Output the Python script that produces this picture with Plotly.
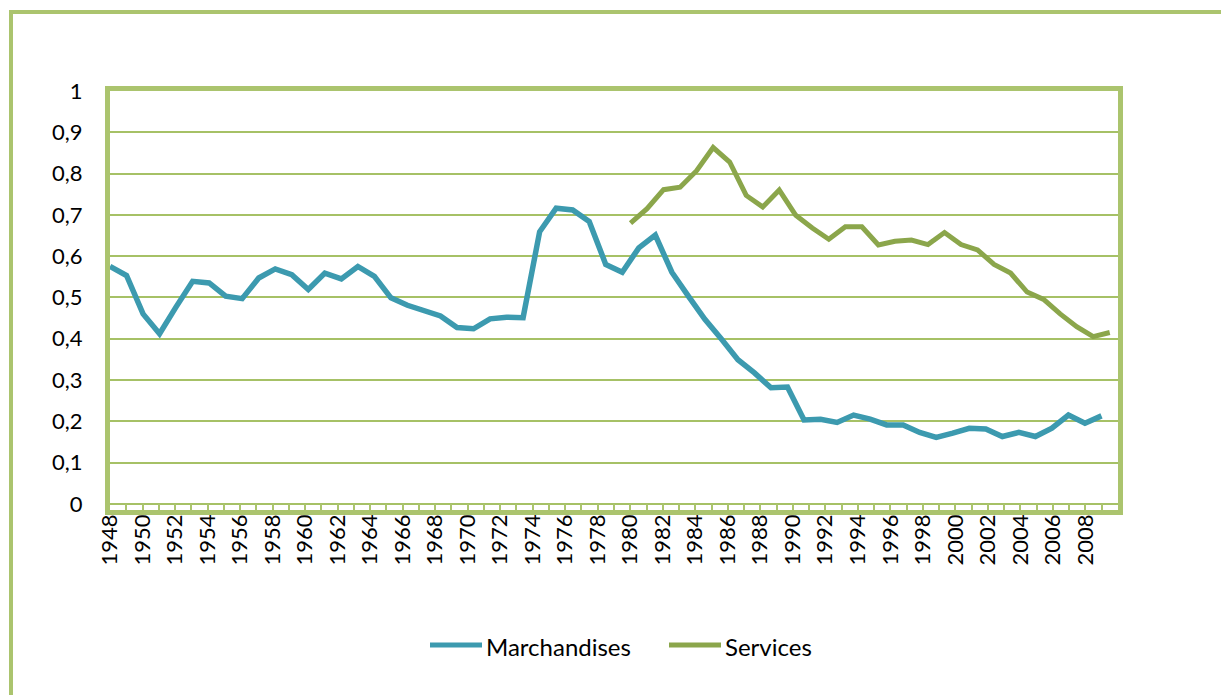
import plotly.graph_objects as go

# ---- data ----
years_m = list(range(1948, 2009))
marchandises = [0.575, 0.553, 0.460, 0.412, 0.477, 0.539, 0.535, 0.503, 0.497, 0.547,
                0.569, 0.555, 0.519, 0.559, 0.545, 0.575, 0.551, 0.499, 0.481, 0.468,
                0.455, 0.427, 0.424, 0.448, 0.452, 0.451, 0.659, 0.716, 0.712, 0.684,
                0.580, 0.561, 0.620, 0.651, 0.561, 0.503, 0.447, 0.399, 0.349, 0.317,
                0.281, 0.283, 0.203, 0.205, 0.197, 0.215, 0.205, 0.191, 0.191, 0.173,
                0.161, 0.171, 0.183, 0.181, 0.163, 0.173, 0.163, 0.183, 0.215, 0.195,
                0.213]
years_s = list(range(1980, 2010))
services = [0.680, 0.715, 0.761, 0.767, 0.807, 0.863, 0.828, 0.747, 0.719, 0.760,
            0.699, 0.668, 0.641, 0.671, 0.671, 0.627, 0.636, 0.639, 0.628, 0.657,
            0.628, 0.615, 0.580, 0.559, 0.513, 0.495, 0.460, 0.429, 0.405, 0.415]
x_tick_years = list(range(1948, 2010, 2))
y_tick_vals = [0, 0.1, 0.2, 0.3, 0.4, 0.5, 0.6, 0.7, 0.8, 0.9, 1]
y_tick_text = ["0", "0,1", "0,2", "0,3", "0,4", "0,5", "0,6", "0,7", "0,8", "0,9", "1"]
series_names = ["Marchandises", "Services"]

# ---- style ----
C_M = "#3C9AAF"
C_S = "#8BA64B"
C_FRAME = "#ABC46E"
C_GRID = "#A6C166"
FONT = "Lato"

OFF = 8  # default page body margin
W, H = 1229 - OFF, 695 - OFF
L, T = 110 - OFF, 91 - OFF
R = W - (1118 - OFF)
B = H - (510 - OFF)
pw, ph = W - L - R, H - T - B


def px_x(p):
    return (p - OFF - L) / pw


def px_y(p):
    return (H - B - (p - OFF)) / ph


fig = go.Figure()
# Services on the base axis, Marchandises on its own overlaid axis
fig.add_trace(go.Scatter(x=years_s, y=services, mode="lines", name=series_names[1],
                         xaxis="x", yaxis="y",
                         line=dict(color=C_S, width=5), showlegend=False))
fig.add_trace(go.Scatter(x=years_m, y=marchandises, mode="lines", name=series_names[0],
                         xaxis="x2", yaxis="y",
                         line=dict(color=C_M, width=5.5), showlegend=False))
# empty trace that binds the labelled year axis (draws nothing)
fig.add_trace(go.Scatter(x=[x_tick_years[0], x_tick_years[-1]], y=[None, None], mode="lines",
                         xaxis="x3", yaxis="y", hoverinfo="skip", showlegend=False))

shapes = [
    dict(type="rect", xref="paper", yref="paper",
         x0=px_x(11), x1=px_x(1260), y0=px_y(730), y1=px_y(12),
         line=dict(color=C_FRAME, width=4), fillcolor="rgba(0,0,0,0)", layer="below"),
]
annotations = []
legend_items = [(series_names[0], C_M, 430, 482), (series_names[1], C_S, 669, 721)]
for name, col, a, b in legend_items:
    shapes.append(dict(type="line", xref="paper", yref="paper",
                       x0=px_x(a), x1=px_x(b), y0=px_y(645), y1=px_y(645),
                       line=dict(color=col, width=5)))
    annotations.append(dict(text=name, xref="paper", yref="paper", x=px_x(b + 2), y=px_y(646),
                            xanchor="left", yanchor="middle", showarrow=False,
                            font=dict(family=FONT, size=24, color="black")))

# base axis: frame + Services positions
xaxis_s = dict(
    range=[1948.5, 2009.5], showticklabels=False, ticks="",
    showgrid=False, zeroline=False,
    showline=True, mirror=True, linecolor=C_FRAME, linewidth=5,
)
# Marchandises positions (hidden)
xaxis_m = dict(overlaying="x", anchor="y", range=[1948, 2009],
               showticklabels=False, showgrid=False, zeroline=False,
               showline=False, ticks="")
# labelled year axis
xaxis_lbl = dict(
    overlaying="x", anchor="y", side="bottom",
    range=[1948, 2010], tickmode="array", tickvals=x_tick_years,
    ticktext=[str(y) for y in x_tick_years], tickangle=-90,
    tickfont=dict(family=FONT, size=22, color="black"),
    showgrid=False, zeroline=False, showline=False,
    ticks="inside", ticklen=6, tickwidth=2, tickcolor=C_FRAME,
    minor=dict(dtick=1, tick0=1948, ticks="inside", ticklen=6, tickwidth=2,
               tickcolor=C_FRAME, showgrid=False),
    ticklabelstandoff=-1,
)
yaxis_main = dict(
    range=[-0.015, 1], tickmode="array", tickvals=y_tick_vals, ticktext=y_tick_text,
    tickfont=dict(family=FONT, size=22, color="black"),
    showgrid=True, gridcolor=C_GRID, gridwidth=2, zeroline=False,
    showline=True, mirror=True, linecolor=C_FRAME, linewidth=5,
    ticks="", ticklabelstandoff=18,
)

fig.update_layout(
    width=W, height=H,
    margin=dict(l=L, r=R, t=T, b=B, pad=0),
    paper_bgcolor="white", plot_bgcolor="white",
    shapes=shapes, annotations=annotations,
    font=dict(family=FONT, size=22, color="black"),
    xaxis=xaxis_s, xaxis2=xaxis_m, xaxis3=xaxis_lbl, yaxis=yaxis_main,
)

fig.write_html("out.html")
